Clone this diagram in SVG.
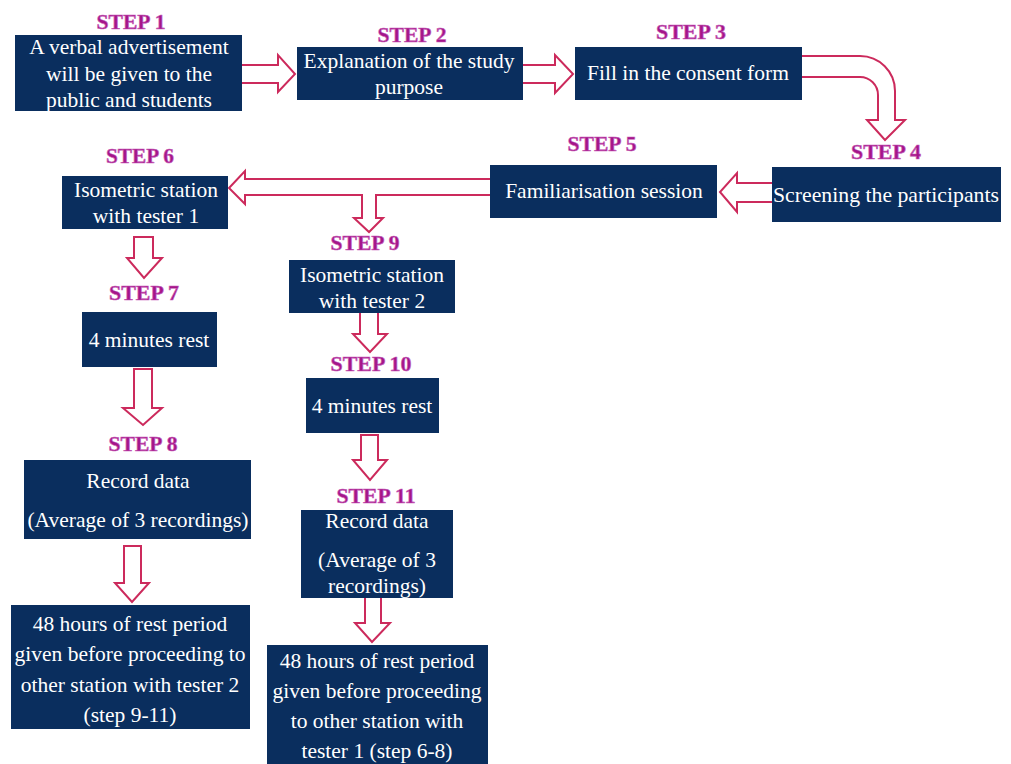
<svg xmlns="http://www.w3.org/2000/svg" width="1011" height="764" viewBox="0 0 1011 764">
<style>
.box{fill:#0a2e5e}
.t{font-size:21.5px;fill:#ffffff;text-anchor:middle}
.s{font-size:22px;font-weight:bold;fill:#a4168a;stroke:#c860b8;stroke-width:0.6;text-anchor:middle}
.a{fill:#ffffff;stroke:#cc2a5c;stroke-width:2;stroke-linejoin:miter}
</style>
<rect width="1011" height="764" fill="#ffffff"/>
<g id="connectors">
<path class="a" d="M241,65 H278 V55 L295,74 L278,92 V83 H241 Z"/>
<path class="a" d="M522,65 H555 V55 L573,74 L555,93 V83 H522 Z"/>
<path class="a" d="M801,56 H860 A35,35 0 0 1 895,91 V120 H905 L885,140 L867,120 H878 V95 A18,18 0 0 0 860,77 H801 Z"/>
<path class="a" d="M773,183 H737 V173 L720,192 L737,212 V202 H773 Z"/>
<path class="a" d="M491,179 H245 V171 L229,188 L245,204 V195 H362 V218 H354 L369,232 L383,218 H376 V195 H491 Z"/>
<path class="a" d="M134,237 V258 H127 L144,278 L162,258 H153 V237 Z"/>
<path class="a" d="M360,312 V334 H353 L370,352 L387,334 H378 V312 Z"/>
<path class="a" d="M134,369 V408 H123 L143,425 L162,408 H152 V369 Z"/>
<path class="a" d="M361,435 V460 H353 L370,480 L387,460 H378 V435 Z"/>
<path class="a" d="M124,546 V583 H115 L132,602 L149,583 H141 V546 Z"/>
<path class="a" d="M365,597 V623 H355 L372,642 L390,623 H381 V597 Z"/>
</g>
<g font-family="Liberation Serif, serif">
<g id="step1">
<text class="s" x="131" y="29" textLength="69" lengthAdjust="spacingAndGlyphs">STEP 1</text>
<rect class="box" x="15" y="35" width="227" height="76"/>
<text class="t" x="129" y="54">A verbal advertisement</text>
<text class="t" x="129" y="81">will be given to the</text>
<text class="t" x="129" y="107">public and students</text>
</g>
<g id="step2">
<text class="s" x="412" y="42" textLength="69" lengthAdjust="spacingAndGlyphs">STEP 2</text>
<rect class="box" x="297" y="47" width="226" height="53"/>
<text class="t" x="409" y="68">Explanation of the study</text>
<text class="t" x="409" y="94">purpose</text>
</g>
<g id="step3">
<text class="s" x="691" y="39" textLength="70" lengthAdjust="spacingAndGlyphs">STEP 3</text>
<rect class="box" x="575" y="47" width="227" height="53"/>
<text class="t" x="688" y="80">Fill in the consent form</text>
</g>
<g id="step4">
<text class="s" x="886" y="159" textLength="70" lengthAdjust="spacingAndGlyphs">STEP 4</text>
<rect class="box" x="772" y="167" width="229" height="55"/>
<text class="t" x="886" y="202" textLength="226" lengthAdjust="spacingAndGlyphs">Screening the participants</text>
</g>
<g id="step5">
<text class="s" x="602" y="151" textLength="69" lengthAdjust="spacingAndGlyphs">STEP 5</text>
<rect class="box" x="490" y="165" width="227" height="53"/>
<text class="t" x="604" y="198">Familiarisation session</text>
</g>
<g id="step6">
<text class="s" x="140" y="163" textLength="68" lengthAdjust="spacingAndGlyphs">STEP 6</text>
<rect class="box" x="62" y="176" width="166" height="53"/>
<text class="t" x="146" y="197">Isometric station</text>
<text class="t" x="146" y="223">with tester 1</text>
</g>
<g id="step7">
<text class="s" x="144" y="300" textLength="70" lengthAdjust="spacingAndGlyphs">STEP 7</text>
<rect class="box" x="82" y="312" width="135" height="55"/>
<text class="t" x="149" y="347">4 minutes rest</text>
</g>
<g id="step8">
<text class="s" x="143" y="451" textLength="69" lengthAdjust="spacingAndGlyphs">STEP 8</text>
<rect class="box" x="24" y="460" width="227" height="79"/>
<text class="t" x="138" y="488">Record data</text>
<text class="t" x="138" y="527">(Average of 3 recordings)</text>
</g>
<g id="rest48a">
<rect class="box" x="11" y="605" width="239" height="124"/>
<text class="t" x="130" y="631">48 hours of rest period</text>
<text class="t" x="130" y="661">given before proceeding to</text>
<text class="t" x="130" y="692">other station with tester 2</text>
<text class="t" x="130" y="722">(step 9-11)</text>
</g>
<g id="step9">
<text class="s" x="365" y="250" textLength="69" lengthAdjust="spacingAndGlyphs">STEP 9</text>
<rect class="box" x="289" y="260" width="166" height="53"/>
<text class="t" x="372" y="282">Isometric station</text>
<text class="t" x="372" y="308">with tester 2</text>
</g>
<g id="step10">
<text class="s" x="371" y="371" textLength="81" lengthAdjust="spacingAndGlyphs">STEP 10</text>
<rect class="box" x="306" y="378" width="133" height="55"/>
<text class="t" x="372" y="413">4 minutes rest</text>
</g>
<g id="step11">
<text class="s" x="376" y="503" textLength="79" lengthAdjust="spacingAndGlyphs">STEP 11</text>
<rect class="box" x="301" y="510" width="152" height="88"/>
<text class="t" x="377" y="528">Record data</text>
<text class="t" x="377" y="567">(Average of 3</text>
<text class="t" x="377" y="593">recordings)</text>
</g>
<g id="rest48b">
<rect class="box" x="267" y="645" width="221" height="119"/>
<text class="t" x="377" y="668">48 hours of rest period</text>
<text class="t" x="377" y="698">given before proceeding</text>
<text class="t" x="377" y="728">to other station with</text>
<text class="t" x="377" y="758">tester 1 (step 6-8)</text>
</g>
</g>
</svg>
